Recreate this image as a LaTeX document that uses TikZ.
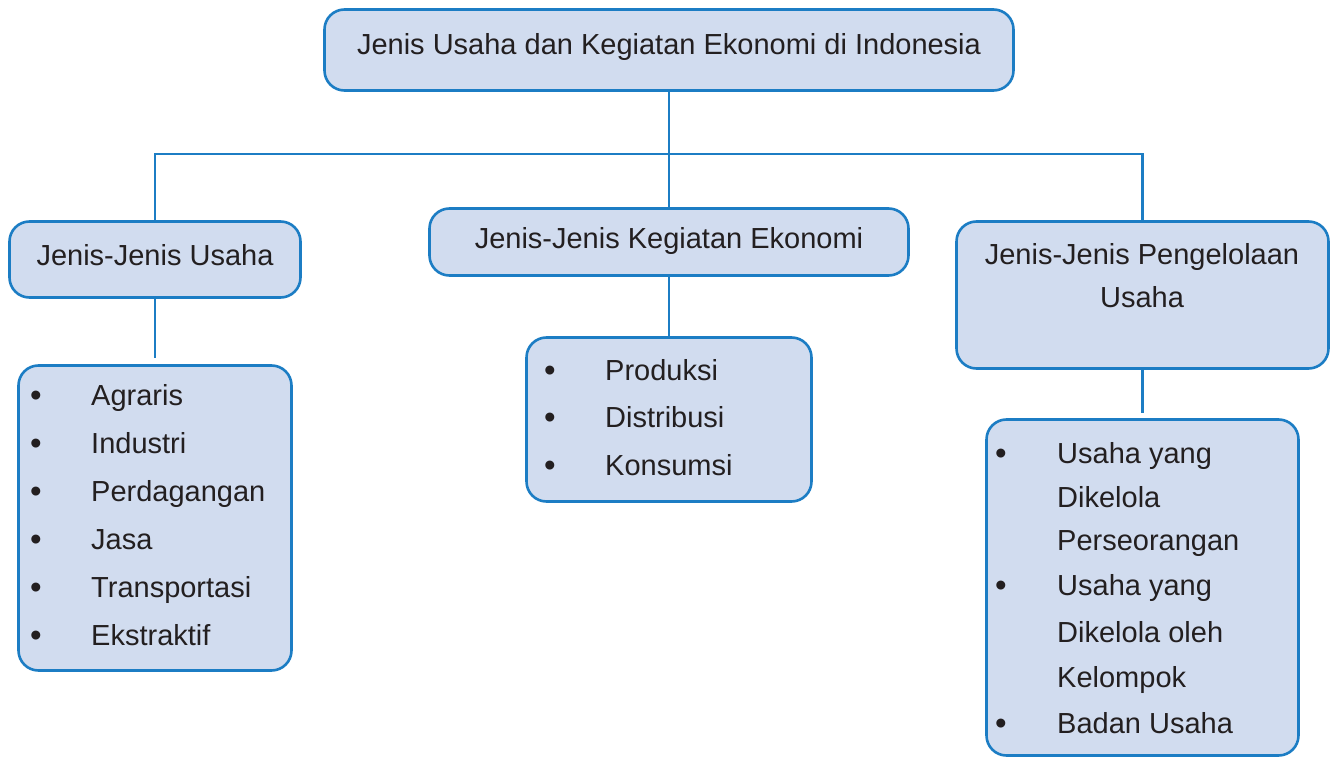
\documentclass[tikz,border=0pt]{standalone}
\usepackage{fontspec}
\setmainfont{Liberation Sans}
\definecolor{boxfill}{HTML}{D1DCEF}
\definecolor{boxline}{HTML}{1C7DC4}
\definecolor{ink}{HTML}{231F20}
\begin{document}
\begin{tikzpicture}[x=1pt,y=-1pt,
  box/.style={draw=boxline,fill=boxfill,line width=2.6pt,rounded corners=20pt,inner sep=0pt},
  conn/.style={draw=boxline,line width=2.6pt},
  txt/.style={font=\fontsize{29}{34}\selectfont,text=ink,inner sep=0pt,anchor=base},
  itm/.style={txt,anchor=base west},
  bul/.style={txt,font=\fontsize{33}{38}\selectfont,anchor=base}]
\useasboundingbox (0,0) rectangle (1333,759);
% boxes
\node[box,minimum width=689pt,minimum height=81pt] (top) at (669,50) {};
\node[box,minimum width=291pt,minimum height=76pt] (lh) at (155,259.5) {};
\node[box,minimum width=479pt,minimum height=67pt] (mh) at (669,242) {};
\node[box,minimum width=372pt,minimum height=147pt] (rh) at (1142.5,295) {};
\node[box,minimum width=273pt,minimum height=305pt] (ll) at (155,518) {};
\node[box,minimum width=285pt,minimum height=164pt] (ml) at (669,419.5) {};
\node[box,minimum width=312pt,minimum height=336pt] (rl) at (1142.5,587.5) {};
% connectors
\coordinate (bus) at (669,154);
\coordinate (llend) at (155,358);
\coordinate (rlend) at (1142.5,413);
\draw[conn] (top.south) -- (mh.north);
\draw[conn] (lh.north) |- (bus) -| (rh.north);
\draw[conn] (lh.south) -- (llend);
\draw[conn] (mh.south) -- (ml.north);
\draw[conn] (rh.south) -- (rlend);
% header texts
\node[txt] (t0) at (669,55) {Jenis Usaha dan Kegiatan Ekonomi di Indonesia};
\node[txt] (t1) at (155,266) {Jenis-Jenis Usaha};
\node[txt] (t2) at (669,249) {Jenis-Jenis Kegiatan Ekonomi};
\node[txt] (t3a) at (1142,265) {Jenis-Jenis Pengelolaan};
\node[txt] (t3b) at (1142,308) {Usaha};
% left list
\node[bul] (lb1) at (36,406) {•};
\node[bul] (lb2) at (36,454) {•};
\node[bul] (lb3) at (36,502) {•};
\node[bul] (lb4) at (36,550) {•};
\node[bul] (lb5) at (36,598) {•};
\node[bul] (lb6) at (36,646) {•};
\node[itm] (li1) at (91,405) {Agraris};
\node[itm] (li2) at (91,453) {Industri};
\node[itm] (li3) at (91,501) {Perdagangan};
\node[itm] (li4) at (91,549) {Jasa};
\node[itm] (li5) at (91,597) {Transportasi};
\node[itm] (li6) at (91,645) {Ekstraktif};
% middle list
\node[bul] (mb1) at (550,381) {•};
\node[bul] (mb2) at (550,428) {•};
\node[bul] (mb3) at (550,476) {•};
\node[itm] (mi1) at (605,380) {Produksi};
\node[itm] (mi2) at (605,427) {Distribusi};
\node[itm] (mi3) at (605,475) {Konsumsi};
% right list
\node[bul] (rb1) at (1001,464) {•};
\node[bul] (rb2) at (1001,596) {•};
\node[bul] (rb3) at (1001,734) {•};
\node[itm] (ri1) at (1057,463) {Usaha yang};
\node[itm] (ri2) at (1057,507) {Dikelola};
\node[itm] (ri3) at (1057,550) {Perseorangan};
\node[itm] (ri4) at (1057,595) {Usaha yang};
\node[itm] (ri5) at (1057,642) {Dikelola oleh};
\node[itm] (ri6) at (1057,687) {Kelompok};
\node[itm] (ri7) at (1057,733) {Badan Usaha};
\end{tikzpicture}
\end{document}
